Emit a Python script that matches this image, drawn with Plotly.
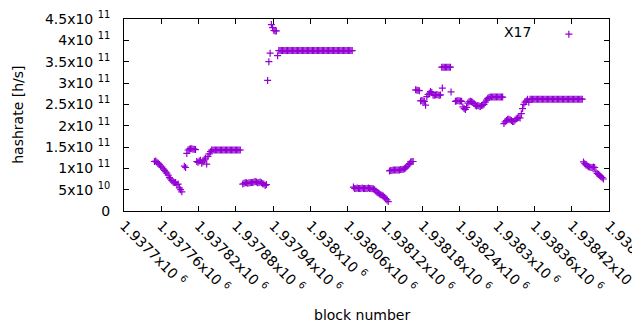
import plotly.graph_objects as go

# ---- data (hashrate in units of 1e11 h/s), points every 2 blocks from each segment start ----
seg_start = [1937749, 1937797, 1937801, 1937817, 1937841, 1937891, 1937931, 1937949,
             1938069, 1938127, 1938169, 1938177, 1938187, 1938211, 1938212, 1938226,
             1938233, 1938311, 1938355, 1938439]

seg_a = [1.16, 1.17, 1.14, 1.12, 1.09, 1.05, 1.03, 0.99, 0.95, 0.92, 0.89, 0.84,
         0.78, 0.75, 0.71, 0.68, 0.66, 0.67, 0.62, 0.63, 0.54, 0.50, 0.45]
seg_b = [1.05, 1.02]
seg_c = [1.35, 1.43, 1.45, 1.46, 1.46, 1.45, 1.45, 1.44]
seg_d = [1.16, 1.14, 1.17, 1.19, 1.12, 1.15, 1.20, 1.24, 1.10, 1.28, 1.34, 1.39]
seg_e = [1.43, 1.43, 1.43, 1.43, 1.43, 1.43, 1.43, 1.43, 1.43, 1.43, 1.43, 1.43,
         1.43, 1.43, 1.43, 1.43, 1.43, 1.43, 1.43, 1.43, 1.43, 1.43, 1.43, 1.43]
seg_f = [0.63, 0.65, 0.66, 0.66, 0.65, 0.66, 0.66, 0.67, 0.67, 0.68, 0.69, 0.68,
         0.66, 0.67, 0.68, 0.66, 0.64, 0.63, 0.60, 0.62]
seg_g = [3.06, 3.50, 3.70, 4.37, 4.30, 4.23, 4.22, 4.22, 3.64]
seg_p1 = [3.76, 3.76, 3.76, 3.76, 3.76, 3.76, 3.76, 3.76, 3.76, 3.76, 3.76, 3.76,
          3.76, 3.76, 3.76, 3.76, 3.76, 3.76, 3.76, 3.76, 3.76, 3.76, 3.76, 3.76,
          3.76, 3.76, 3.76, 3.76, 3.76, 3.76, 3.76, 3.76, 3.76, 3.76, 3.76, 3.76,
          3.76, 3.76, 3.76, 3.76, 3.76, 3.76, 3.76, 3.76, 3.76, 3.76, 3.76, 3.76,
          3.76, 3.76, 3.76, 3.76, 3.76, 3.76, 3.76, 3.76, 3.76, 3.76, 3.76, 3.76]
seg_h = [0.56, 0.53, 0.53, 0.54, 0.53, 0.53, 0.53, 0.54, 0.53, 0.53, 0.53, 0.53,
         0.54, 0.53, 0.53, 0.52, 0.52, 0.50, 0.47, 0.44, 0.42, 0.40, 0.38, 0.37,
         0.35, 0.32, 0.29, 0.26, 0.22]
seg_i = [0.94, 0.95, 0.95, 0.96, 0.96, 0.96, 0.96, 0.96, 0.96, 0.97, 0.97, 0.98,
         0.99, 1.01, 1.04, 1.08, 1.11, 1.15, 1.16, 1.16]
seg_j1 = [2.84, 2.83, 2.83, 2.82]
seg_j2 = [2.58, 2.59, 2.58, 2.57, 2.48]
seg_j3 = [2.68, 2.73, 2.76, 2.80, 2.78, 2.72, 2.71, 2.72, 2.73, 2.72, 2.71, 2.72]
seg_k = [3.37, 3.37, 3.37, 3.37, 3.37, 3.37, 3.37, 3.37]
seg_s1 = [2.88]
seg_s2 = [2.79]
seg_n = [2.57, 2.58, 2.59, 2.58, 2.58, 2.57, 2.44, 2.40, 2.38, 2.43, 2.53, 2.56,
         2.57, 2.56, 2.55, 2.52, 2.48, 2.46, 2.47, 2.46, 2.45, 2.47, 2.48, 2.50,
         2.55, 2.60, 2.64, 2.66, 2.67, 2.67, 2.67, 2.67, 2.67, 2.67, 2.67, 2.67,
         2.67, 2.67, 2.67]
seg_l = [2.05, 2.09, 2.12, 2.15, 2.15, 2.14, 2.12, 2.10, 2.10, 2.13, 2.16, 2.18,
         2.19, 2.18, 2.28, 2.40, 2.50, 2.55, 2.58, 2.62, 2.55, 2.62]
seg_p2 = [2.62, 2.62, 2.62, 2.62, 2.62, 2.62, 2.62, 2.62, 2.62, 2.62, 2.62, 2.62,
          2.62, 2.62, 2.62, 2.62, 2.62, 2.62, 2.62, 2.62, 2.62, 2.62, 2.62, 2.62,
          2.62, 2.62, 2.62, 2.62, 2.62, 2.62, 2.62, 2.62, 2.62, 2.62, 2.62, 2.62,
          2.62, 2.62, 2.62, 2.62, 2.62, 2.62]
seg_m = [1.15, 1.11, 1.08, 1.06, 1.04, 1.03, 1.02, 1.02, 1.03, 1.02, 0.92, 0.88,
         0.86, 0.83, 0.80, 0.78, 0.75]

segments = [seg_a, seg_b, seg_c, seg_d, seg_e, seg_f, seg_g, seg_p1, seg_h, seg_i,
            seg_j1, seg_j2, seg_j3, seg_k, seg_s1, seg_s2, seg_n, seg_l, seg_p2, seg_m]
block_step = 2

x_tickvals = [1937700, 1937760, 1937820, 1937880, 1937940, 1938000, 1938060,
              1938120, 1938180, 1938240, 1938300, 1938360, 1938420, 1938480]
x_ticktext = ["1.9377", "1.93776", "1.93782", "1.93788", "1.93794", "1.938", "1.93806",
              "1.93812", "1.93818", "1.93824", "1.9383", "1.93836", "1.93842", "1.93848"]
y_tickvals = [0, 5e10, 1e11, 1.5e11, 2e11, 2.5e11, 3e11, 3.5e11, 4e11, 4.5e11]
y_ticktext = ["0", "5x10 <sup>10</sup>", "1x10 <sup>11</sup>", "1.5x10 <sup>11</sup>",
              "2x10 <sup>11</sup>", "2.5x10 <sup>11</sup>", "3x10 <sup>11</sup>",
              "3.5x10 <sup>11</sup>", "4x10 <sup>11</sup>", "4.5x10 <sup>11</sup>"]

blocks = []
hashrate = []
for start, vals in zip(seg_start, segments):
    for i, v in enumerate(vals):
        blocks.append(start + block_step * i)
        hashrate.append(v * 1e11)

PURPLE = "#9400D3"
FONT = "DejaVu Sans"

fig = go.Figure()
fig.add_trace(go.Scatter(
    x=blocks, y=hashrate, mode="markers", name="",
    marker=dict(symbol="cross-thin", size=5, line=dict(color=PURPLE, width=1.2), color=PURPLE),
    showlegend=True,
))

axis_common = dict(showline=True, linecolor="black", linewidth=1, mirror="ticks",
                   ticks="inside", ticklen=5, tickcolor="black", showgrid=False,
                   zeroline=False, ticklabeloverflow="allow",
                   tickfont=dict(family=FONT, size=14, color="black"))

# the page body has an 8px default margin, so the figure is sized to fit the 640x330 window
fig.update_layout(
    width=632, height=322,
    margin=dict(l=116, r=31, t=11, b=119),
    paper_bgcolor="white", plot_bgcolor="white",
    font=dict(family=FONT, size=14, color="black"),
    xaxis=dict(range=[1937700, 1938480], tickvals=x_tickvals,
               ticktext=[t + "x10 <sup>6</sup>" for t in x_ticktext],
               tickangle=45, automargin=False, **axis_common),
    yaxis=dict(range=[0, 4.5e11], tickvals=y_tickvals, ticktext=y_ticktext,
               automargin=False, ticklabelstandoff=10, **axis_common),
    legend=dict(title=dict(text=""), x=0.876, y=1.002, xanchor="left", yanchor="top",
                bgcolor="rgba(0,0,0,0)", font=dict(family=FONT, size=14)),
    annotations=[
        dict(text="X17", xref="paper", yref="paper", x=0.843, y=0.932,
             xanchor="right", yanchor="middle", showarrow=False,
             font=dict(family=FONT, size=14, color="black")),
        dict(text="block number", xref="paper", yref="paper", x=0.49, y=-0.54,
             xanchor="center", yanchor="middle", showarrow=False,
             font=dict(family=FONT, size=14, color="black")),
        dict(text="hashrate [h/s]", xref="paper", yref="paper", x=-0.219, y=0.5,
             xanchor="center", yanchor="middle", textangle=-90, showarrow=False,
             font=dict(family=FONT, size=14, color="black")),
    ],
)

fig.write_html("out.html")
